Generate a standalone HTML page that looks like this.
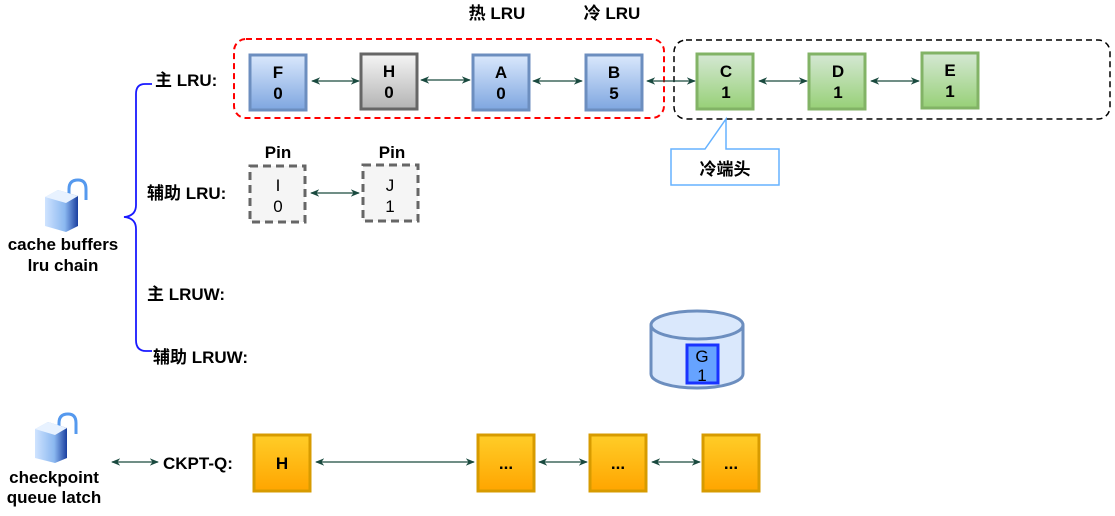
<!DOCTYPE html>
<html><head><meta charset="utf-8"><style>
body{margin:0;background:#fff}
svg text{font-family:"Liberation Sans","Noto Sans CJK SC",sans-serif;font-weight:bold;font-size:17px;fill:#000}
</style></head><body>
<svg width="1115" height="511" viewBox="0 0 1115 511" xmlns="http://www.w3.org/2000/svg">
<defs>
<linearGradient id="gb" x1="0" y1="0" x2="0" y2="1"><stop offset="0" stop-color="#dae8fc"/><stop offset="1" stop-color="#7ea6e0"/></linearGradient>
<linearGradient id="gg" x1="0" y1="0" x2="0" y2="1"><stop offset="0" stop-color="#f5f5f5"/><stop offset="1" stop-color="#b3b3b3"/></linearGradient>
<linearGradient id="gn" x1="0" y1="0" x2="0" y2="1"><stop offset="0" stop-color="#d5e8d4"/><stop offset="1" stop-color="#97d077"/></linearGradient>
<linearGradient id="go" x1="0" y1="0" x2="0" y2="1"><stop offset="0" stop-color="#ffcd28"/><stop offset="1" stop-color="#ffa500"/></linearGradient>
<linearGradient id="lk" x1="0" y1="0" x2="1" y2="0"><stop offset="0" stop-color="#cfe3ff"/><stop offset="0.6" stop-color="#8bb8f0"/><stop offset="1" stop-color="#1a3fa0"/></linearGradient>
<marker id="a" viewBox="0 0 10 10" refX="9" refY="5" markerWidth="7" markerHeight="7" orient="auto-start-reverse"><path d="M0,1 L10,5 L0,9 L3,5z" fill="#1a4a3f"/></marker>
</defs>
<rect x="234" y="39" width="430" height="79" rx="12" fill="none" stroke="#ff0000" stroke-width="2" stroke-dasharray="6,4"/>
<rect x="674" y="40" width="436" height="79" rx="12" fill="none" stroke="#000" stroke-width="1.5" stroke-dasharray="6,4"/>
<text x="497" y="19" text-anchor="middle">热 LRU</text>
<text x="612" y="19" text-anchor="middle">冷 LRU</text>
<g stroke-width="3">
<rect x="250" y="55" width="56" height="55" fill="url(#gb)" stroke="#6c8ebf"/>
<rect x="361" y="54" width="56" height="55" fill="url(#gg)" stroke="#666"/>
<rect x="473" y="55" width="56" height="55" fill="url(#gb)" stroke="#6c8ebf"/>
<rect x="586" y="55" width="56" height="55" fill="url(#gb)" stroke="#6c8ebf"/>
<rect x="697" y="54" width="56" height="55" fill="url(#gn)" stroke="#82b366"/>
<rect x="809" y="54" width="56" height="55" fill="url(#gn)" stroke="#82b366"/>
<rect x="922" y="53" width="56" height="55" fill="url(#gn)" stroke="#82b366"/>
</g>
<g text-anchor="middle">
<text x="278" y="78">F</text><text x="278" y="99">0</text>
<text x="389" y="77">H</text><text x="389" y="98">0</text>
<text x="501" y="78">A</text><text x="501" y="99">0</text>
<text x="614" y="78">B</text><text x="614" y="99">5</text>
<text x="726" y="77">C</text><text x="726" y="98">1</text>
<text x="838" y="77">D</text><text x="838" y="98">1</text>
<text x="950" y="76">E</text><text x="950" y="97">1</text>
</g>
<g stroke="#1a4a3f" stroke-width="1.3" marker-start="url(#a)" marker-end="url(#a)">
<line x1="312" y1="81" x2="359" y2="81"/>
<line x1="421" y1="80" x2="470" y2="80"/>
<line x1="533" y1="81" x2="582" y2="81"/>
<line x1="647" y1="81" x2="695" y2="81"/>
<line x1="759" y1="81" x2="807" y2="81"/>
<line x1="871" y1="81" x2="919" y2="81"/>
</g>
<path d="M671,149 H705 L726,119 V149 H779 V185 H671 Z" fill="#fff" stroke="#66b2ff" stroke-width="1.5"/>
<text x="725" y="175" text-anchor="middle">冷端头</text>
<g fill="#f5f5f5" stroke="#666" stroke-width="3" stroke-dasharray="8,5">
<rect x="250" y="166" width="55" height="56"/>
<rect x="363" y="165" width="55" height="56"/>
</g>
<text x="278" y="158" text-anchor="middle">Pin</text>
<text x="392" y="158" text-anchor="middle">Pin</text>
<text x="278" y="191" text-anchor="middle" style="font-weight:normal">I</text><text x="278" y="212" text-anchor="middle" style="font-weight:normal">0</text>
<text x="390" y="191" text-anchor="middle" style="font-weight:normal">J</text><text x="390" y="212" text-anchor="middle" style="font-weight:normal">1</text>
<line x1="311" y1="193" x2="359" y2="193" stroke="#1a4a3f" stroke-width="1.3" marker-start="url(#a)" marker-end="url(#a)"/>
<text x="155" y="86">主 LRU:</text>
<text x="147" y="199">辅助 LRU:</text>
<text x="147" y="300">主 LRUW:</text>
<text x="153" y="363">辅助 LRUW:</text>
<path d="M152,84 H145 Q136,84 136,94 V205 Q136,216 124,217 Q136,218 136,229 V340 Q136,351 146,351 H152" fill="none" stroke="#1a1aff" stroke-width="1.8"/>
<path d="M651,325 V374 A46,14 0 0 0 743,374 V325" fill="#dae8fc" stroke="#6c8ebf" stroke-width="3"/>
<ellipse cx="697" cy="325" rx="46" ry="14" fill="#dae8fc" stroke="#6c8ebf" stroke-width="3"/>
<rect x="687" y="345" width="31" height="38" fill="#66a3ff" stroke="#1a33ff" stroke-width="3"/>
<text x="702" y="362" text-anchor="middle" style="font-weight:normal">G</text>
<text x="702" y="381" text-anchor="middle" style="font-weight:normal">1</text>
<g>
<path d="M69,196 V189 Q69,180 78,180 Q86,180 86,189 V200" fill="none" stroke="#5599ee" stroke-width="3"/>
<path d="M45,197 L58,190 L78,196 L78,226 L66,232 L45,226 Z" fill="url(#lk)"/>
<path d="M45,197 L58,190 L78,196 L66,203 Z" fill="#e8f2ff"/>
</g>
<g>
<path d="M59,430 V423 Q59,414 68,414 Q76,414 76,423 V434" fill="none" stroke="#5599ee" stroke-width="3"/>
<path d="M35,429 L48,422 L67,428 L67,458 L55,463 L35,458 Z" fill="url(#lk)"/>
<path d="M35,429 L48,422 L67,428 L55,435 Z" fill="#e8f2ff"/>
</g>
<text x="63" y="250" text-anchor="middle">cache buffers</text>
<text x="63" y="271" text-anchor="middle">lru chain</text>
<text x="54" y="483" text-anchor="middle">checkpoint</text>
<text x="54" y="503" text-anchor="middle">queue latch</text>
<line x1="112" y1="462" x2="158" y2="462" stroke="#1a4a3f" stroke-width="1.3" marker-start="url(#a)" marker-end="url(#a)"/>
<text x="163" y="469">CKPT-Q:</text>
<g stroke="#d79b00" stroke-width="3">
<rect x="254" y="435" width="56" height="56" fill="url(#go)"/>
<rect x="478" y="435" width="56" height="56" fill="url(#go)"/>
<rect x="590" y="435" width="56" height="56" fill="url(#go)"/>
<rect x="703" y="435" width="56" height="56" fill="url(#go)"/>
</g>
<g text-anchor="middle">
<text x="282" y="469">H</text><text x="506" y="469">...</text><text x="618" y="469">...</text><text x="731" y="469">...</text>
</g>
<g stroke="#1a4a3f" stroke-width="1.3" marker-start="url(#a)" marker-end="url(#a)">
<line x1="316" y1="462" x2="474" y2="462"/>
<line x1="539" y1="462" x2="587" y2="462"/>
<line x1="652" y1="462" x2="700" y2="462"/>
</g>
</svg>
</body></html>
